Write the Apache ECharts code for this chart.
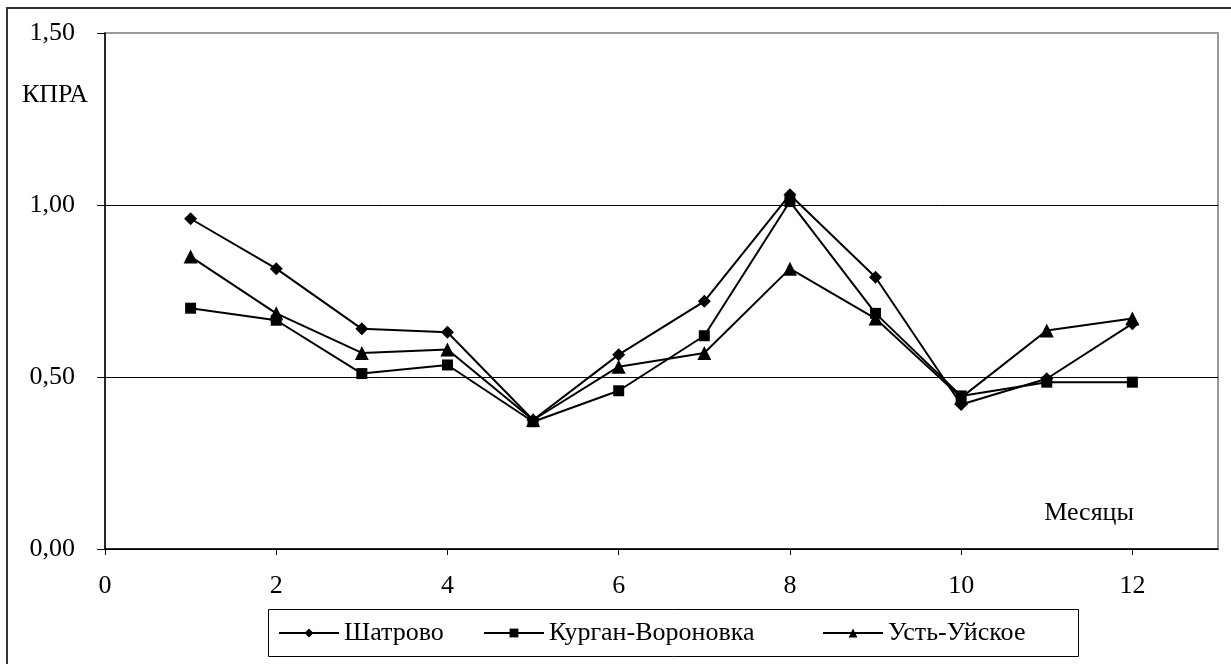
<!DOCTYPE html>
<html>
<head>
<meta charset="utf-8">
<script src="https://cdn.jsdelivr.net/npm/echarts@6/dist/echarts.min.js"></script>
<style>
  html, body { margin: 0; padding: 0; background: #fff; }
  #chart { width: 1231px; height: 664px; }
</style>
</head>
<body>
<div id="chart"></div>
<script>
// Months 1..12 and monthly KPRA values per station
const months = [1, 2, 3, 4, 5, 6, 7, 8, 9, 10, 11, 12];
const shatrovo = [0.96, 0.815, 0.64, 0.63, 0.375, 0.565, 0.72, 1.03, 0.79, 0.42, 0.495, 0.655];
const kurganVoronovka = [0.70, 0.665, 0.51, 0.535, 0.37, 0.46, 0.62, 1.01, 0.685, 0.445, 0.485, 0.485];
const ustUyskoe = [0.85, 0.685, 0.57, 0.58, 0.375, 0.53, 0.57, 0.815, 0.67, 0.44, 0.635, 0.67];
const xTickValues = [0, 2, 4, 6, 8, 10, 12];
const seriesNames = ['Шатрово', 'Курган-Вороновка', 'Усть-Уйское'];

const FONT = '"Liberation Serif", "Times New Roman", serif';
const FS = 26;

function pairs(vals) {
  return months.map((m, i) => [m, vals[i]]);
}

const chart = echarts.init(document.getElementById('chart'), null, { renderer: 'canvas' });

function lineSeries(name, vals, symbol, size) {
  return {
    name: name,
    type: 'line',
    data: pairs(vals),
    symbol: symbol,
    symbolSize: size,
    showAllSymbol: true,
    lineStyle: { color: '#000', width: 2 },
    itemStyle: { color: '#000' },
    emphasis: { disabled: true },
    animation: false
  };
}

function legendFor(name, left) {
  return {
    data: [name],
    left: left,
    top: 620,
    itemWidth: 60,
    itemHeight: 11,
    itemGap: 0,
    padding: 0,
    textStyle: { fontFamily: FONT, fontSize: FS, color: '#000', padding: [0, 0, 0, 0] },
    selectedMode: false
  };
}

chart.setOption({
  backgroundColor: '#fff',
  animation: false,
  grid: {
    left: 105, right: 13, top: 33, bottom: 115,
    show: true, borderColor: '#9a9a9a', borderWidth: 2, backgroundColor: 'transparent'
  },
  xAxis: {
    type: 'value',
    min: 0, max: 13, interval: 1,
    axisLine: { show: true, onZero: false, lineStyle: { color: '#000', width: 1.5 } },
    axisTick: { show: true, inside: false, length: 6, customValues: xTickValues, lineStyle: { color: '#000', width: 1 } },
    axisLabel: { customValues: xTickValues, margin: 24, fontFamily: FONT, fontSize: FS, color: '#000' },
    splitLine: { show: false }
  },
  yAxis: {
    type: 'value',
    min: 0, max: 1.5, interval: 0.5,
    axisLine: { show: true, lineStyle: { color: '#000', width: 1.5 } },
    axisTick: { show: true, inside: false, length: 8, lineStyle: { color: '#000', width: 1 } },
    axisLabel: {
      margin: 30, fontFamily: FONT, fontSize: FS, color: '#000',
      formatter: v => v.toFixed(2).replace('.', ',')
    },
    splitLine: { show: true, lineStyle: { color: ['#000', '#000', '#000', '#9a9a9a'], width: 1 } }
  },
  legend: [
    legendFor(seriesNames[0], 278),
    legendFor(seriesNames[1], 483),
    legendFor(seriesNames[2], 822)
  ],
  graphic: [
    { type: 'rect', shape: { x: 7, y: 8, width: 1400, height: 800 }, style: { fill: 'none', stroke: '#333', lineWidth: 2 }, silent: true, z: 100 },
    { type: 'rect', shape: { x: 268.5, y: 609.5, width: 810, height: 47 }, style: { fill: 'none', stroke: '#000', lineWidth: 1 }, silent: true, z: 100 },
    { type: 'text', left: 22, top: 82, style: { text: 'КПРА', font: FS + 'px ' + FONT, fill: '#000' }, silent: true },
    { type: 'text', right: 1231 - 1134, top: 500, style: { text: 'Месяцы', font: FS + 'px ' + FONT, fill: '#000' }, silent: true }
  ],
  series: [
    lineSeries(seriesNames[0], shatrovo, 'diamond', 13),
    lineSeries(seriesNames[1], kurganVoronovka, 'rect', 11),
    lineSeries(seriesNames[2], ustUyskoe, 'triangle', 14)
  ]
});
</script>
</body>
</html>
